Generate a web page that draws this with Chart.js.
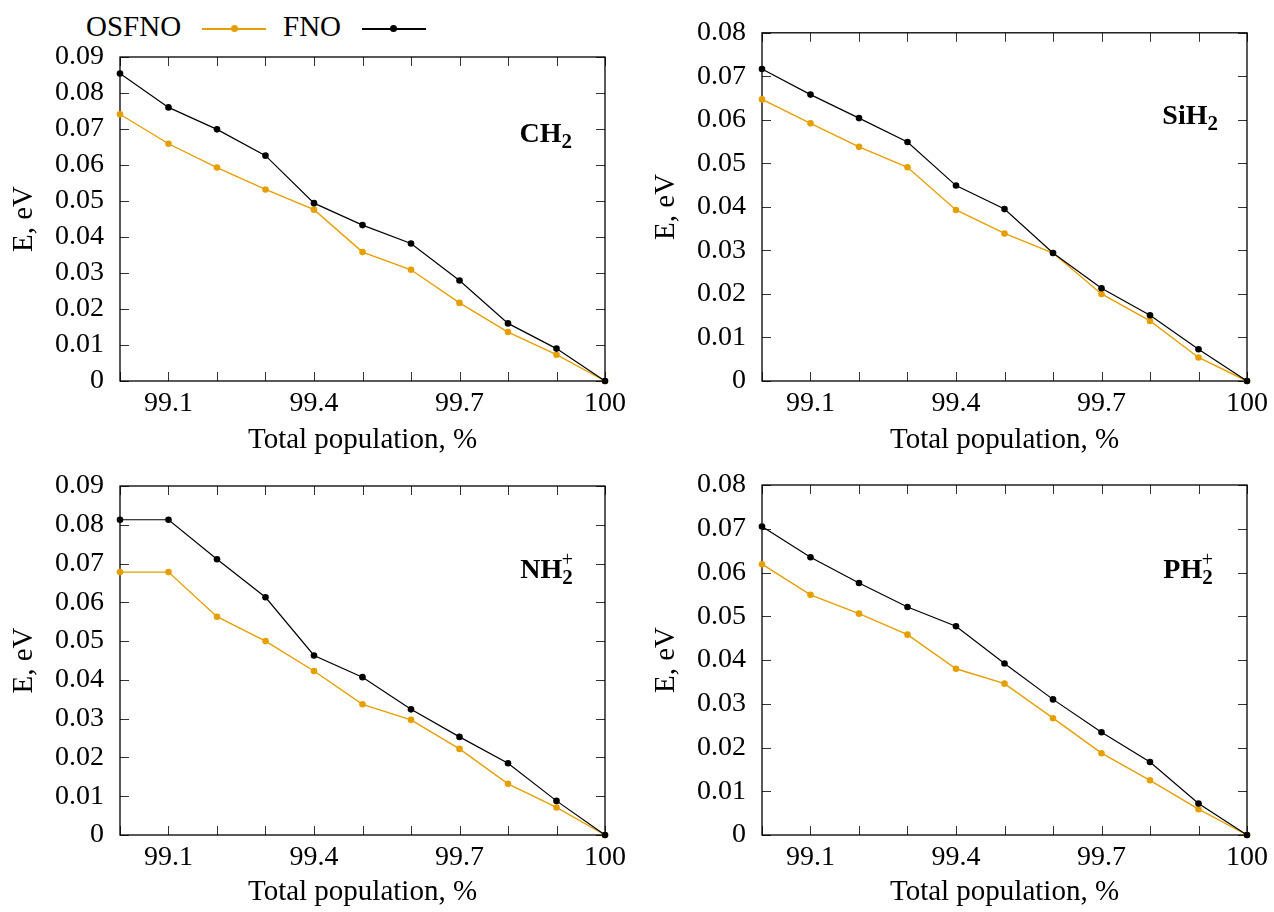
<!DOCTYPE html>
<html>
<head>
<meta charset="utf-8">
<script src="https://cdn.jsdelivr.net/npm/chart.js@4.4.1/dist/chart.umd.min.js"></script>
<style>
  body { margin: 0; background: #fff; width: 1274px; height: 912px; overflow: hidden; position: relative;
         font-family: "Liberation Serif", "Times New Roman", serif; color: #000; }
  .panel { position: absolute; width: 632px; height: 460px; }
  .leg { position: absolute; top: 12px; font-size: 29px; line-height: 28px; height: 28px; }
  .sample { position: absolute; height: 1.5px; }
  .dot { position: absolute; width: 7px; height: 7px; border-radius: 50%; }
  .lbl { position: absolute; font-size: 28px; line-height: 28px; font-weight: bold; white-space: nowrap; }
  .sb { font-size: 21px; position: relative; top: 6px; }
  .sp { font-size: 20px; font-weight: normal; position: relative; top: -12px; margin-left: -11px; }
</style>
</head>
<body>
<div class="leg" style="left:86px">OSFNO</div>
<div class="sample" style="left:202px;top:28px;width:64px;background:#e69f00"></div>
<div class="dot" style="left:231px;top:25px;background:#e69f00"></div>
<div class="leg" style="left:283px">FNO</div>
<div class="sample" style="left:362px;top:28px;width:64px;background:#000"></div>
<div class="dot" style="left:390px;top:25px;background:#000"></div>

<div class="panel" style="left:0;top:0"><canvas id="ch2" width="632" height="460"></canvas></div>
<div class="panel" style="left:642px;top:0"><canvas id="sih2" width="632" height="460"></canvas></div>
<div class="panel" style="left:0;top:452px"><canvas id="nh2" width="632" height="460"></canvas></div>
<div class="panel" style="left:642px;top:452px"><canvas id="ph2" width="632" height="460"></canvas></div>

<div class="lbl" style="right:702px;top:119px">CH<span class="sb">2</span></div>
<div class="lbl" style="right:56px;top:101px">SiH<span class="sb">2</span></div>
<div class="lbl" style="right:701px;top:555px">NH<span class="sb">2</span><span class="sp">+</span></div>
<div class="lbl" style="right:61px;top:555px">PH<span class="sb">2</span><span class="sp">+</span></div>

<script>
// total population, %
var xValues = [99.0, 99.1, 99.2, 99.3, 99.4, 99.5, 99.6, 99.7, 99.8, 99.9, 100.0];
var xTickLabels = ['99.1', '99.4', '99.7', '100'];
var yTicks = [0, 0.01, 0.02, 0.03, 0.04, 0.05, 0.06, 0.07, 0.08, 0.09];
var yTickLabels = ['0', '0.01', '0.02', '0.03', '0.04', '0.05', '0.06', '0.07', '0.08', '0.09'];

// E, eV
var ch2Osfno  = [0.0741, 0.0659, 0.0593, 0.0532, 0.0476, 0.0358, 0.0309, 0.0217, 0.0136, 0.0073, 0];
var ch2Fno    = [0.0854, 0.0760, 0.0699, 0.0626, 0.0494, 0.0433, 0.0382, 0.0279, 0.0160, 0.0090, 0];
var sih2Osfno = [0.0647, 0.0592, 0.0538, 0.0491, 0.0393, 0.0339, 0.0294, 0.0200, 0.0138, 0.0054, 0];
var sih2Fno   = [0.0717, 0.0658, 0.0604, 0.0549, 0.0449, 0.0395, 0.0294, 0.0213, 0.0151, 0.0073, 0];
var nh2Osfno  = [0.0678, 0.0678, 0.0563, 0.0500, 0.0423, 0.0337, 0.0297, 0.0222, 0.0132, 0.0071, 0];
var nh2Fno    = [0.0813, 0.0813, 0.0711, 0.0613, 0.0463, 0.0407, 0.0324, 0.0253, 0.0185, 0.0088, 0];
var ph2Osfno  = [0.0619, 0.0549, 0.0506, 0.0458, 0.0380, 0.0346, 0.0267, 0.0187, 0.0125, 0.0059, 0];
var ph2Fno    = [0.0705, 0.0635, 0.0576, 0.0521, 0.0477, 0.0392, 0.0310, 0.0235, 0.0167, 0.0072, 0];

var FONT = "'Liberation Serif', 'Times New Roman', serif";
Chart.defaults.font.family = FONT;
Chart.defaults.color = '#000';

// inward tick marks on all four sides plus the frame
var frameTicks = {
  id: 'frameTicks',
  beforeDatasetsDraw: function(chart) {
    var ctx = chart.ctx, a = chart.chartArea, x = chart.scales.x, y = chart.scales.y;
    ctx.save();
    ctx.strokeStyle = '#333';
    ctx.lineWidth = 1;
    ctx.beginPath();
    x.ticks.forEach(function(t) {
      var px = Math.round(x.getPixelForValue(t.value)) + 0.5;
      ctx.moveTo(px, a.bottom); ctx.lineTo(px, a.bottom - 9);
      ctx.moveTo(px, a.top); ctx.lineTo(px, a.top + 9);
    });
    y.ticks.forEach(function(t) {
      var py = Math.round(y.getPixelForValue(t.value)) + 0.5;
      ctx.moveTo(a.left, py); ctx.lineTo(a.left + 9, py);
      ctx.moveTo(a.right, py); ctx.lineTo(a.right - 9, py);
    });
    ctx.stroke();
    ctx.strokeStyle = '#000';
    ctx.lineWidth = 1.3;
    ctx.strokeRect(a.left, a.top, a.right - a.left, a.bottom - a.top);
    ctx.restore();
  }
};

function series(vals) {
  return xValues.map(function(x, i) { return { x: x, y: vals[i] }; });
}

function makeChart(id, osfno, fno, yMax, areaTop, areaBottom) {
  var h = 460;
  new Chart(document.getElementById(id), {
    type: 'line',
    data: {
      datasets: [
        { label: 'OSFNO', data: series(osfno), borderColor: '#e69f00', backgroundColor: '#e69f00',
          borderWidth: 1.4, pointRadius: 3.3, pointBorderWidth: 0, clip: false, order: 1 },
        { label: 'FNO', data: series(fno), borderColor: '#000', backgroundColor: '#000',
          borderWidth: 1.2, pointRadius: 3.3, pointBorderWidth: 0, clip: false, order: 0 }
      ]
    },
    options: {
      responsive: false,
      animation: false,
      devicePixelRatio: 1,
      layout: { padding: { left: 0, right: 24, top: areaTop, bottom: 0 } },
      plugins: { legend: { display: false }, tooltip: { enabled: false } },
      scales: {
        x: {
          type: 'linear', min: 99, max: 100,
          afterBuildTicks: function(s) { s.ticks = xValues.map(function(v) { return { value: v }; }); },
          afterFit: function(s) { s.height = h - areaBottom; },
          grid: { display: false, drawTicks: false },
          border: { display: false },
          ticks: {
            autoSkip: false, maxRotation: 0, padding: 6, color: '#000',
            font: { family: FONT, size: 28 },
            callback: function(v) {
              var t = String(Math.round(v * 10) / 10);
              return xTickLabels.indexOf(t) >= 0 ? t : '';
            }
          },
          title: { display: true, text: 'Total population, %', color: '#000',
                   font: { family: FONT, size: 29, lineHeight: 1 }, padding: { top: 0, bottom: 5 } }
        },
        y: {
          min: 0, max: yMax,
          afterBuildTicks: function(s) {
            s.ticks = yTicks.filter(function(v) { return v <= yMax + 1e-9; })
                            .map(function(v) { return { value: v }; });
          },
          afterFit: function(s) { s.width = 120; },
          grid: { display: false, drawTicks: false },
          border: { display: false },
          ticks: {
            autoSkip: false, padding: 16, color: '#000',
            font: { family: FONT, size: 28 },
            callback: function(v, i) { return yTickLabels[i]; }
          },
          title: { display: true, text: 'E, eV', color: '#000',
                   font: { family: FONT, size: 29, lineHeight: 1 }, padding: { top: 10, bottom: 0 } }
        }
      }
    },
    plugins: [frameTicks]
  });
}

makeChart('ch2', ch2Osfno, ch2Fno, 0.09, 57, 381);
makeChart('sih2', sih2Osfno, sih2Fno, 0.08, 31, 381);
makeChart('nh2', nh2Osfno, nh2Fno, 0.09, 34, 383);
makeChart('ph2', ph2Osfno, ph2Fno, 0.08, 33, 383);
</script>
</body>
</html>
